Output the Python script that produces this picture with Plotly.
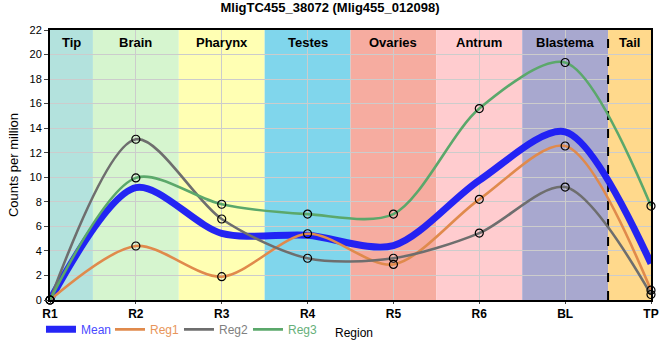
import plotly.graph_objects as go

regions = ["R1", "R2", "R3", "R4", "R5", "R6", "BL", "TP"]
reg1 = [0.0, 4.4, 1.9, 5.4, 2.9, 8.2, 12.55, 0.8]
reg2 = [0.0, 13.1, 6.6, 3.4, 3.4, 5.45, 9.2, 0.45]
reg3 = [0.0, 9.95, 7.8, 7.0, 7.0, 15.6, 19.35, 7.65]
mean = [(a + b + c) / 3 for a, b, c in zip(reg1, reg2, reg3)]

tissues = ["Tip", "Brain", "Pharynx", "Testes", "Ovaries", "Antrum", "Blastema", "Tail"]
tissue_colors = ["#b3e2dd", "#d6f5cf", "#ffffb3", "#80d6ec", "#f6aca0", "#ffcccf", "#a8a8cf", "#ffd98c"]

x = list(range(len(regions)))
xmax = len(regions) - 1
SM = 0.85

fig = go.Figure()

series = [("Reg1", reg1, "#e08a4c", "#e8955a"), ("Reg2", reg2, "#6e6e6e", "#808080"), ("Reg3", reg3, "#5ba86b", "#66b07a")]

fig.add_trace(go.Scatter(x=x, y=mean, mode="lines", line=dict(color="rgba(25,25,245,0.95)", width=7, shape="spline", smoothing=SM),
                         name="<span style='color:#4a4aff'>Mean</span>", cliponaxis=False))
for nm, vals, col, tcol in series:
    fig.add_trace(go.Scatter(x=x, y=vals, mode="lines", line=dict(color=col, width=2.6, shape="spline", smoothing=SM),
                             name=f"<span style='color:{tcol}'>{nm}</span>"))
for nm, vals, col, tcol in series:
    fig.add_trace(go.Scatter(x=x, y=vals, mode="markers", showlegend=False, cliponaxis=False,
                             marker=dict(symbol="circle-open", color="black", size=8, line=dict(width=1.2))))

for i, (t, c) in enumerate(zip(tissues, tissue_colors)):
    x0 = max(i - 0.5, 0)
    x1 = min(i + 0.5, xmax)
    fig.add_shape(type="rect", xref="x", yref="y", x0=x0, x1=x1, y0=0, y1=22,
                  fillcolor=c, line=dict(width=0), layer="below")
    fig.add_annotation(x=(x0 + x1) / 2, y=21.0, xref="x", yref="y", text=f"<b>{t}</b>",
                       showarrow=False, font=dict(size=13, color="black", family="Liberation Sans, Arial"))

fig.add_shape(type="line", xref="x", yref="y", x0=xmax - 0.5, x1=xmax - 0.5, y0=0, y1=22,
              line=dict(color="black", width=2, dash="dash"), layer="between")

fig.update_layout(
    width=660, height=360,
    margin=dict(l=50, r=9, t=30, b=60),
    paper_bgcolor="white", plot_bgcolor="rgba(0,0,0,0)",
    font=dict(family="Liberation Sans, Arial", size=11, color="black"),
    title=dict(text="<b>MligTC455_38072 (Mlig455_012098)</b>", x=0.5, xanchor="center",
               yref="container", y=1, yanchor="top", pad=dict(t=3),
               font=dict(size=13)),
    showlegend=True,
    legend=dict(orientation="h", x=-0.015, xanchor="left", y=-0.055, yanchor="top", font=dict(size=12),
                itemwidth=30, tracegroupgap=0, bgcolor="rgba(0,0,0,0)",
                entrywidth=24, entrywidthmode="pixels"),
)
fig.update_xaxes(range=[0, xmax], tickmode="array", tickvals=x, ticktext=[f"<b>{r}</b>" for r in regions],
                 tickfont=dict(size=12), showgrid=True, gridcolor="#cccccc", gridwidth=1, automargin=False,
                 showline=True, linecolor="black", linewidth=2, mirror=True, ticks="outside", ticklen=2,
                 zeroline=False)
fig.add_annotation(xref="paper", yref="paper", x=0.505, y=-0.09, xanchor="center", yanchor="top",
                   text="Region", showarrow=False, font=dict(size=12, color="black"))
fig.update_yaxes(range=[0, 22], dtick=2, showgrid=True, gridcolor="#cccccc", gridwidth=1, automargin=False,
                 showline=True, linecolor="black", linewidth=2, mirror=True, ticks="outside", ticklen=4,
                 title=dict(text="Counts per million", font=dict(size=13), standoff=8), zeroline=False,
                 tickfont=dict(size=11))

fig.write_html("out.html", config={"displayModeBar": False},
               post_script="document.body.style.margin='0';document.body.style.overflow='hidden';")
